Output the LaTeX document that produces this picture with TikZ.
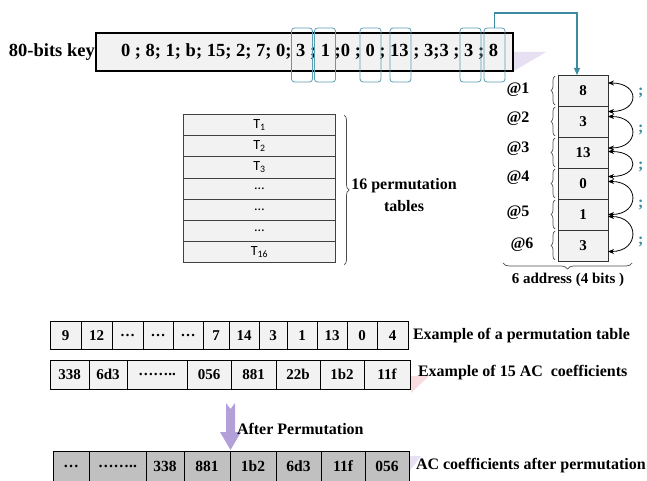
\documentclass[tikz,border=0pt]{standalone}
\usepackage{fontspec}
\setmainfont{Liberation Serif}
\newfontfamily\calib{Carlito}
\usetikzlibrary{decorations.pathreplacing,arrows.meta,calc}
\definecolor{tealc}{HTML}{3A8CA3}
\definecolor{hl}{HTML}{5B9DB2}
\definecolor{boxfill}{HTML}{F2F2F2}
\definecolor{darkfill}{HTML}{C0C0C0}
\definecolor{lav}{HTML}{B3A0D8}
\definecolor{lavlight}{HTML}{E6E0F2}
\definecolor{pinkl}{HTML}{F8DCDF}
\begin{document}
\begin{tikzpicture}[x=1pt,y=-1pt,
  every node/.style={inner sep=0pt, outer sep=0pt},
  lbl/.style={font=\bfseries\fontsize{16}{18}\selectfont, anchor=west},
  cell/.style={draw=black, line width=0.8pt, fill=boxfill, font=\bfseries\fontsize{15}{17}\selectfont},
  darkcell/.style={draw=black, line width=0.8pt, fill=darkfill, font=\bfseries\fontsize{15.5}{17}\selectfont},
  tabrow/.style={draw=black!75, line width=0.8pt, fill=boxfill, font=\calib\fontsize{14}{16}\selectfont, minimum width=152.4pt, minimum height=21.2pt},
  addr/.style={draw=black!80, line width=0.8pt, fill=boxfill, minimum width=50pt, minimum height=31pt, font=\bfseries\fontsize{15}{17}\selectfont},
  hlbox/.style={draw=hl, line width=0.8pt, rounded corners=3pt, minimum width=21pt, minimum height=54pt},
  tealarrow/.style={draw=tealc, line width=1.2pt, -{Triangle[length=7pt,width=6pt]}},
  curv/.style={draw=black, line width=0.8pt, {Stealth[length=6pt,width=5pt]}-{Stealth[length=6pt,width=5pt]}},
  brc/.style={draw=black!70, line width=0.7pt, decorate, decoration={brace, amplitude=#1}},
  mbrc/.style={draw=black!70, line width=0.7pt, decorate, decoration={brace, mirror, amplitude=#1}},
  tealmark/.style={text=tealc, font=\bfseries\fontsize{16}{18}\selectfont, anchor=west},
]
\useasboundingbox (0,0) rectangle (647,481);

% faint background shapes
\fill[lavlight] (513,52) -- (546,52) -- (514,71) -- cycle;
\fill[pinkl] (411,376) -- (429,376) -- (411,393) -- cycle;
\fill[lavlight] (409,456) -- (421,456) -- (409,472) -- cycle;

% key
\node[font=\bfseries\fontsize{18.5}{20}\selectfont, anchor=west] (klabel) at (9,52) {80-bits key};
\node[draw=black, line width=1.8pt, fill=boxfill, minimum width=417pt, minimum height=37.7pt] (kbox) at (304.5,52) {};
\node[font=\bfseries\fontsize{18.5}{20}\selectfont, anchor=west] (ktext) at (121,52)
  {0 ; 8; 1; b; 15; 2; 7; 0; 3 ; 1 ;0 ; 0 ; 13 ; 3;3 ; 3 ; 8};
\foreach \c [count=\i] in {302,325,370.5,400.5,470.5,494.5}
  \node[hlbox] (h\i) at (\c,55) {};

% address column
\foreach \t/\yc [count=\i] in {8/90.5,3/121.5,13/152.5,0/183.5,1/214.5,3/245.5}
  \node[addr] (a\i) at (583,\yc) {\t};
\coordinate (turn) at (577,13);
\draw[tealarrow] (h6.north) |- (turn) -- (turn |- a1.north);

\foreach \x/\yc [count=\i] in {518/90,518/119,518/149,518/178,518/213,522/245}
  \node[font=\bfseries\fontsize{16}{18}\selectfont] (at\i) at (\x,\yc) {@\i};
\foreach \yt/\yb in {76/105,107/136,138/167,169/198,200/229,231/260}
  \draw[mbrc=4pt] (555,\yt) -- (555,\yb);
\draw[mbrc=6pt] (503,263) -- (632,263);
\node[font=\bfseries\fontsize{15}{17}\selectfont] (addrlbl) at (568,280) {6 address (4 bits )};

% curved arrows
\draw[curv] ([yshift=7.5pt]a1.east) .. controls +(32,0) and +(32,0) .. ([yshift=10pt]a2.east);
\draw[curv] ([yshift=5pt]a2.east) .. controls +(32,0) and +(32,0) .. ([yshift=4.5pt]a3.east);
\draw[curv] ([yshift=1pt]a3.east) .. controls +(32,0) and +(32,0) .. ([yshift=7pt]a4.east);
\draw[curv] ([yshift=2pt]a4.east) .. controls +(32,0) and +(32,0) .. ([yshift=0pt]a5.east);
\draw[curv] ([yshift=-2pt]a5.east) .. controls +(32,0) and +(32,0) .. ([yshift=-6pt]a6.east);
\foreach \yc [count=\i] in {93,130,167,205,242}
  \node[tealmark] (m\i) at (638,\yc) {;};

% permutation tables
\foreach \t [count=\i] in {T\textsubscript{1},T\textsubscript{2},T\textsubscript{3},\dots,\dots,\dots,T\textsubscript{16}}
  \node[tabrow] (t\i) at (259.5,{114.3+21.2*(\i-0.5)}) {\t};
\draw[brc=5pt] (344,115) -- (344,265);
\node[font=\bfseries\fontsize{16}{18}\selectfont, align=center] (ptl) at (404,195) {16 permutation\\[4pt]tables};

% permutation table example
\foreach \l/\r/\t [count=\i] in {50/81/9,81/112/12,112/143/…,143/173/…,173/203/…,203/229/7,229/259/14,259/287/3,287/317/1,317/347/13,347/377/0,377/408/4}
  \node[cell, minimum width={(\r-\l)*1pt}, minimum height=27.5pt] (p\i) at ({(\l+\r)/2},335.5) {\t};
\node[lbl] (pex) at (413,335.5) {Example of a permutation table};

% AC coefficients example
\foreach \l/\r/\t [count=\i] in {50/89/338,89/127/6d3,127/187/……..,187/231/056,231/276/881,276/320/22b,320/364/1b2,364/410/11f}
  \node[cell, minimum width={(\r-\l)*1pt}, minimum height=29pt] (c\i) at ({(\l+\r)/2},374.5) {\t};
\node[lbl] (cex) at (418,373) {Example of 15 AC\ \ coefficients};

% purple arrow
\shade[left color=lav, middle color=lavlight, right color=lav]
  (226,403) -- (230.5,409) -- (235,403) -- (235,432) -- (241,432) -- (230.5,450)
  -- (220,432) -- (226,432) -- cycle;
\node[lbl] (after) at (237,429) {After Permutation};

% after permutation row
\foreach \l/\r/\t [count=\i] in {53/89/…,89/146/……..,146/184/338,184/230/881,230/276/1b2,276/321/6d3,321/365/11f,365/409/056}
  \node[darkcell, minimum width={(\r-\l)*1pt}, minimum height=30pt] (r\i) at ({(\l+\r)/2},466) {\t};
\node[lbl] (rex) at (416,466) {AC coefficients after permutation};
\end{tikzpicture}
\end{document}
